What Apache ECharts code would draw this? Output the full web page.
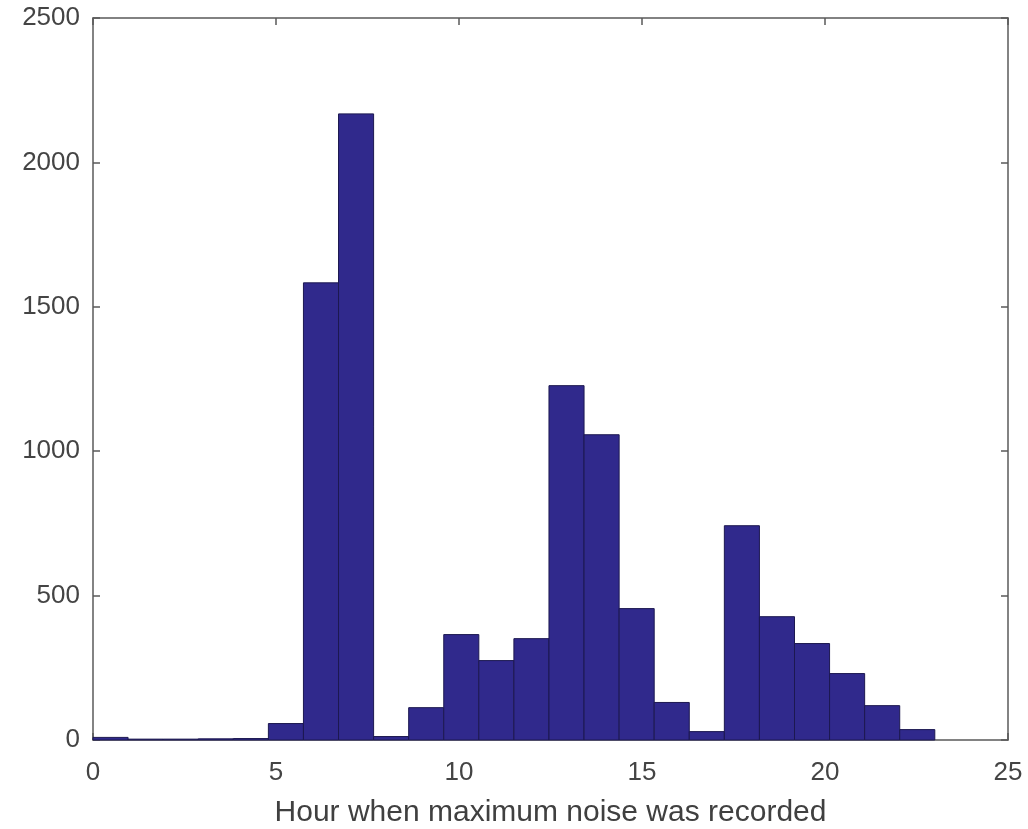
<!DOCTYPE html>
<html>
<head>
<meta charset="utf-8">
<script src="https://cdn.jsdelivr.net/npm/echarts@6/dist/echarts.min.js"></script>
<style>
html,body{margin:0;padding:0;background:#fff;}
#chart{width:1028px;height:829px;}
</style>
</head>
<body>
<div id="chart"></div>
<script>
// Histogram: 24 equal bins spanning hours 0..23
const binStart = 0;
const binEnd = 23;
const counts = [9, 3, 3, 4, 5, 57, 1583, 2168, 12, 112, 365, 275, 351, 1227, 1057, 455, 130, 29, 742, 427, 334, 230, 119, 36];
const xTicks = [0, 5, 10, 15, 20, 25];
const yTicks = [0, 500, 1000, 1500, 2000, 2500];
const xLabel = 'Hour when maximum noise was recorded';

const binWidth = (binEnd - binStart) / counts.length;
const data = counts.map((c, i) => [binStart + i * binWidth, binStart + (i + 1) * binWidth, c]);

const chart = echarts.init(document.getElementById('chart'), null, {renderer: 'canvas'});
const axisColor = '#5a5a5a';
const font = 'Liberation Sans, Arial, sans-serif';
const labelStyle = {color: '#444', fontSize: 26, fontFamily: font, formatter: v => String(v)};
const tick = {show: true, inside: true, length: 7, lineStyle: {color: axisColor, width: 1.5}};

chart.setOption({
  animation: false,
  backgroundColor: '#fff',
  grid: {left: 93, right: 20, top: 18, bottom: 89, containLabel: false, outerBoundsMode: 'none'},
  xAxis: [{
    type: 'value', min: xTicks[0], max: xTicks[xTicks.length - 1], interval: 5,
    axisLine: {show: true, onZero: false, lineStyle: {color: axisColor, width: 1.5}},
    axisTick: tick,
    splitLine: {show: false},
    axisLabel: Object.assign({margin: 20}, labelStyle),
    name: xLabel, nameLocation: 'middle', nameGap: 58,
    nameTextStyle: {color: '#404040', fontSize: 30, fontFamily: font}
  }, {
    type: 'value', position: 'top', min: xTicks[0], max: xTicks[xTicks.length - 1], interval: 5,
    axisLine: {show: true, onZero: false, lineStyle: {color: axisColor, width: 1.5}},
    axisTick: tick,
    splitLine: {show: false}, axisLabel: {show: false}
  }],
  yAxis: [{
    type: 'value', min: yTicks[0], max: yTicks[yTicks.length - 1], interval: 500,
    axisLine: {show: true, onZero: false, lineStyle: {color: axisColor, width: 1.5}},
    axisTick: tick,
    splitLine: {show: false},
    axisLabel: Object.assign({margin: 13}, labelStyle)
  }, {
    type: 'value', position: 'right', min: yTicks[0], max: yTicks[yTicks.length - 1], interval: 500,
    axisLine: {show: true, onZero: false, lineStyle: {color: axisColor, width: 1.5}},
    axisTick: tick,
    splitLine: {show: false}, axisLabel: {show: false}
  }],
  series: [{
    type: 'custom',
    xAxisIndex: 0, yAxisIndex: 0,
    data: data,
    encode: {x: [0, 1], y: 2},
    renderItem: function (params, api) {
      const p0 = api.coord([api.value(0), api.value(2)]);
      const p1 = api.coord([api.value(1), 0]);
      return {
        type: 'rect',
        shape: {x: p0[0], y: p0[1], width: p1[0] - p0[0], height: p1[1] - p0[1]},
        style: {fill: '#30298c', stroke: '#1c1850', lineWidth: 1}
      };
    }
  }]
});
</script>
</body>
</html>
